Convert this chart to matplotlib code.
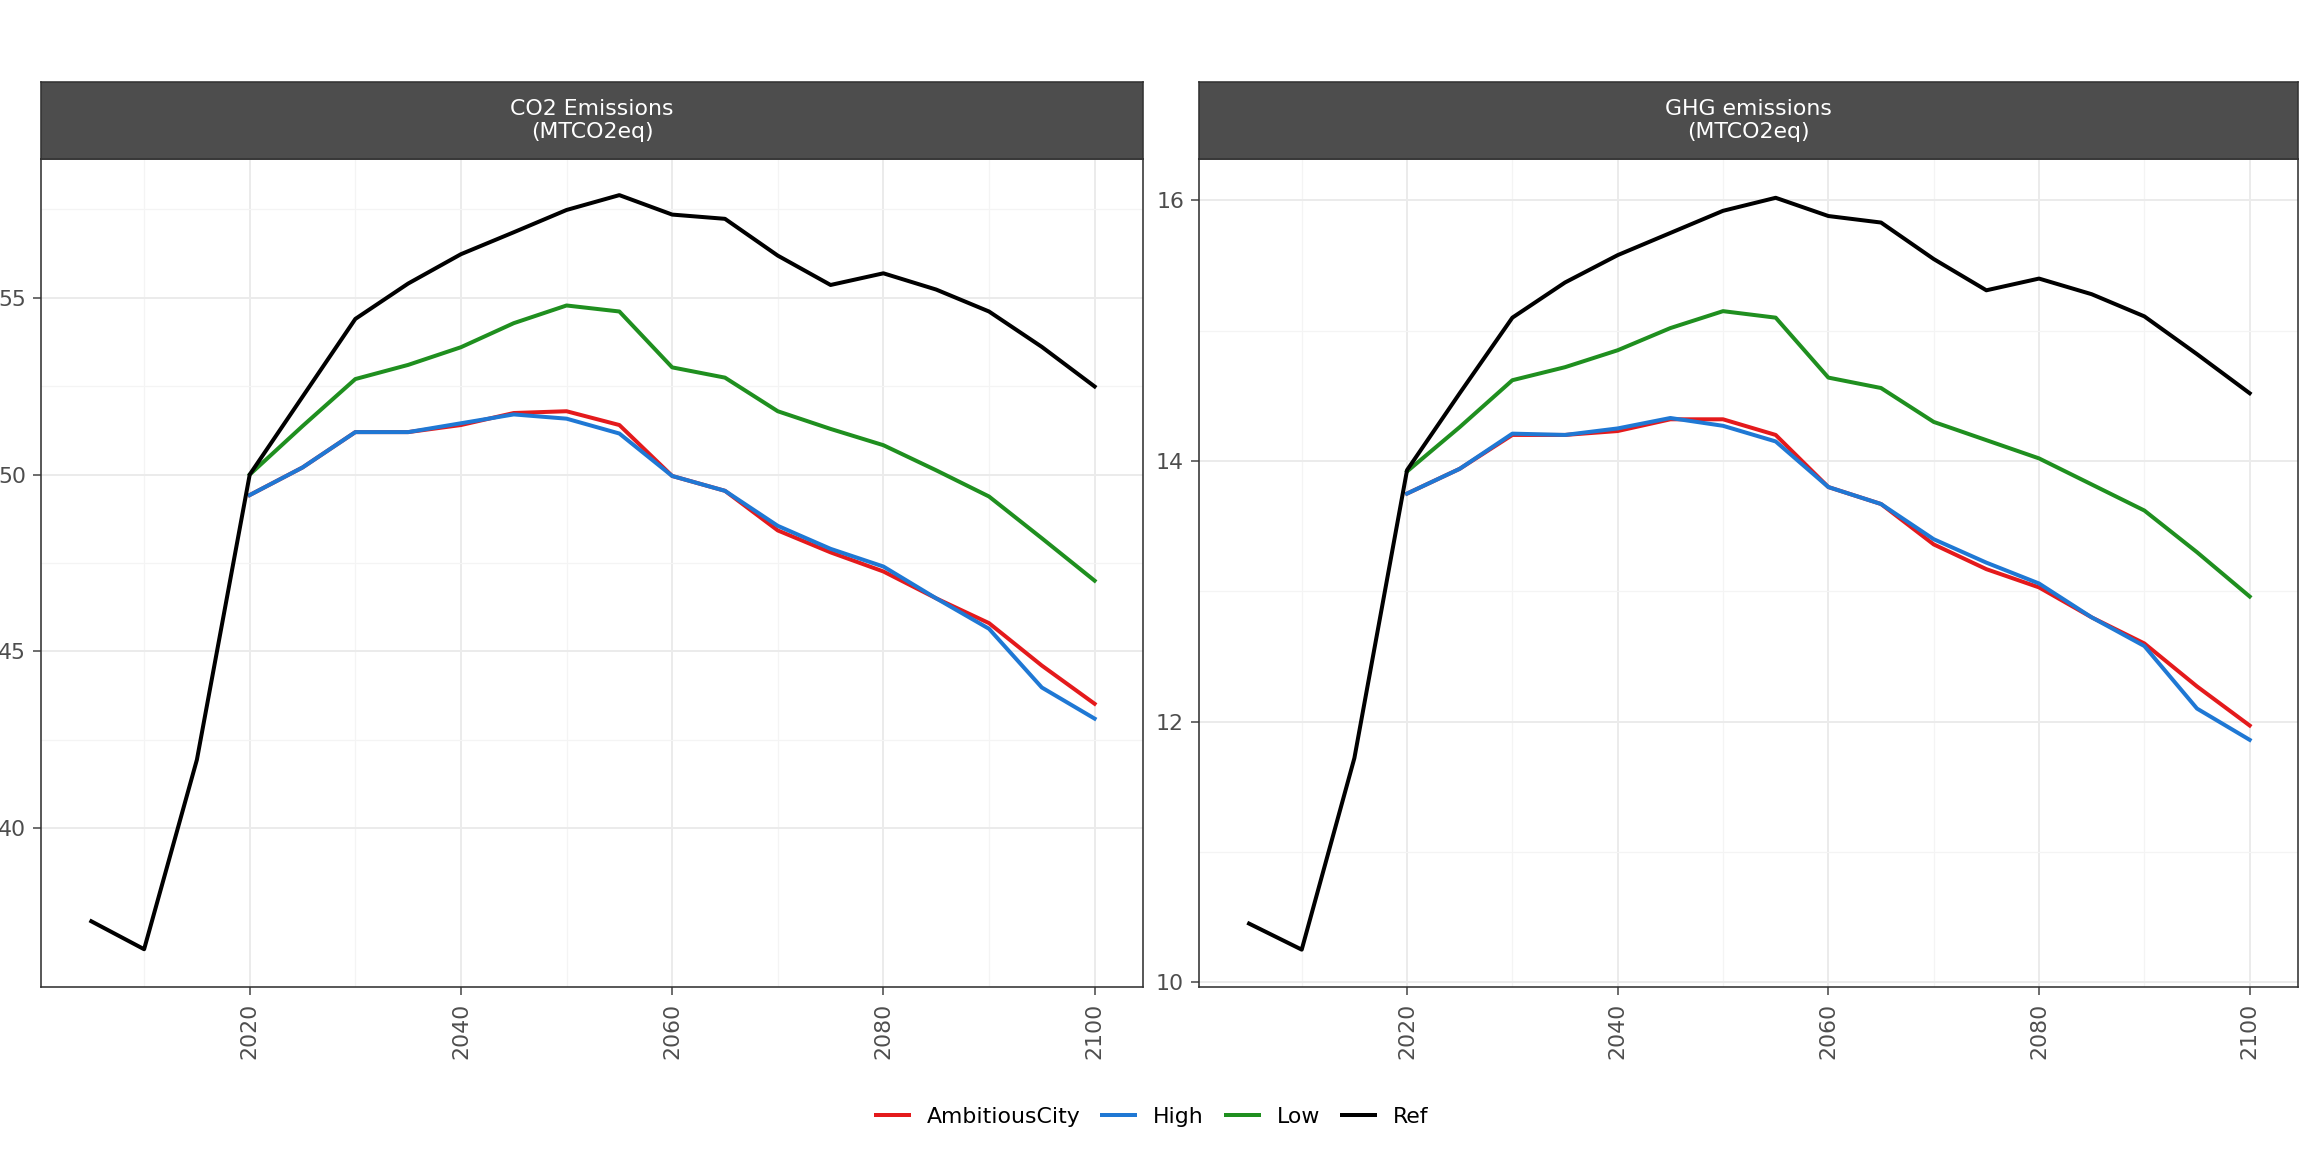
import numpy as np
import matplotlib.pyplot as plt

years = list(range(2005, 2101, 5))
pre = [None, None, None]

co2_ref = [37.37, 36.58, 41.94, 50.0, 52.2, 54.4, 55.4, 56.23, 56.85, 57.48, 57.9, 57.35, 57.23, 56.19, 55.36, 55.69, 55.23, 54.61, 53.61, 52.49]
co2_low = pre + [50.0, 51.37, 52.7, 53.1, 53.6, 54.28, 54.78, 54.61, 53.03, 52.74, 51.79, 51.29, 50.83, 50.12, 49.38, 48.2, 47.0]
co2_amb = pre + [49.42, 50.2, 51.2, 51.2, 51.4, 51.74, 51.79, 51.4, 49.96, 49.54, 48.42, 47.8, 47.26, 46.5, 45.8, 44.6, 43.52]
co2_high = pre + [49.42, 50.2, 51.2, 51.2, 51.45, 51.7, 51.58, 51.16, 49.96, 49.54, 48.55, 47.9, 47.4, 46.5, 45.64, 43.98, 43.1]

ghg_ref = [10.45, 10.25, 11.72, 13.93, 14.52, 15.1, 15.37, 15.58, 15.75, 15.92, 16.02, 15.88, 15.83, 15.55, 15.31, 15.4, 15.28, 15.11, 14.82, 14.52]
ghg_low = pre + [13.92, 14.26, 14.62, 14.72, 14.85, 15.02, 15.15, 15.1, 14.64, 14.56, 14.3, 14.16, 14.02, 13.82, 13.62, 13.3, 12.96]
ghg_amb = pre + [13.75, 13.94, 14.2, 14.2, 14.23, 14.32, 14.32, 14.2, 13.8, 13.67, 13.36, 13.17, 13.03, 12.8, 12.6, 12.27, 11.97]
ghg_high = pre + [13.75, 13.94, 14.21, 14.2, 14.25, 14.33, 14.27, 14.15, 13.8, 13.67, 13.4, 13.22, 13.06, 12.8, 12.58, 12.1, 11.86]

colors = {'AmbitiousCity': '#e41a1c', 'High': '#1f78d4', 'Low': '#1f8f1f', 'Ref': '#000000'}


def clean(v):
    return np.array([np.nan if x is None else x for x in v], dtype=float)


fig = plt.figure(figsize=(16, 8), dpi=144)
W, H = 1568, 784
panels = [
    ('CO2 Emissions\n(MTCO2eq)', [co2_amb, co2_high, co2_low, co2_ref], (35.5, 58.93), [40, 45, 50, 55], 28, 778),
    ('GHG emissions\n(MTCO2eq)', [ghg_amb, ghg_high, ghg_low, ghg_ref], (9.96, 16.32), [10, 12, 14, 16], 816, 1564),
]
for title, series, ylim, yt, x0, x1 in panels:
    ax = fig.add_axes([x0 / W, 1 - 672 / H, (x1 - x0) / W, (672 - 108) / H])
    for name, s in zip(colors, series):
        ax.plot(years, clean(s), color=colors[name], lw=2, label=name)
    ax.set_xlim(2000.25, 2104.6)
    ax.set_ylim(*ylim)
    ax.set_xticks([2020, 2040, 2060, 2080, 2100])
    ax.set_xticks([2010, 2030, 2050, 2070, 2090], minor=True)
    ax.set_yticks(yt)
    ax.set_yticks([(a + b) / 2 for a, b in zip(yt[:-1] + [yt[-1]], yt[1:] + [yt[-1] + yt[1] - yt[0]])], minor=True)
    ax.set_ylim(*ylim)
    ax.grid(which='major', color='#ebebeb', lw=1)
    ax.grid(which='minor', color='#f4f4f4', lw=0.6)
    ax.set_axisbelow(True)
    ax.tick_params(which='minor', length=0)
    ax.tick_params(axis='both', labelsize=11, colors='#4d4d4d', length=4)
    ax.tick_params(axis='x', labelrotation=90)
    for sp in ax.spines.values():
        sp.set_color('#333333')
    st = fig.add_axes([x0 / W, 1 - 108 / H, (x1 - x0) / W, 52 / H])
    st.set_facecolor('#4d4d4d')
    st.set_xticks([])
    st.set_yticks([])
    for sp in st.spines.values():
        sp.set_color('#333333')
    st.text(0.5, 0.5, title, color='white', ha='center', va='center', fontsize=11, transform=st.transAxes)

handles, labels = ax.get_legend_handles_labels()
fig.legend(handles, labels, loc='center', bbox_to_anchor=(0.5, 1 - 760 / H), ncol=4,
           frameon=False, fontsize=11, handlelength=1.5, columnspacing=1.0)
fig.savefig('out.png', dpi=144)
